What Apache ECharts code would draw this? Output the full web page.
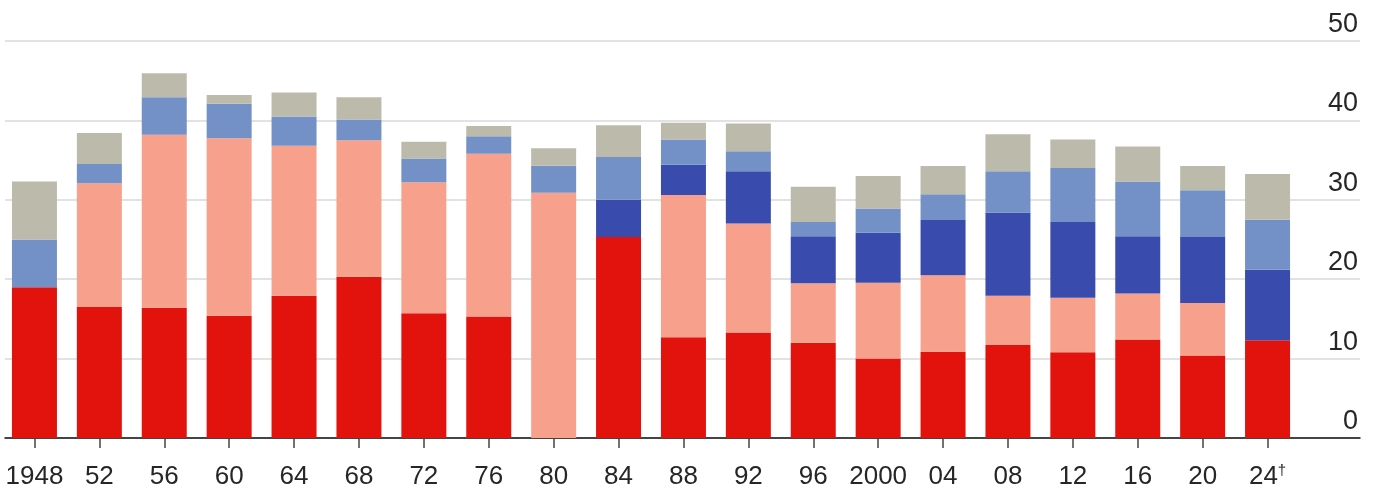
<!DOCTYPE html>
<html>
<head>
<meta charset="utf-8">
<script src="https://cdn.jsdelivr.net/npm/echarts@6/dist/echarts.min.js"></script>
<style>
html,body{margin:0;padding:0;background:#fff;}
#chart{width:1375px;height:496px;}
</style>
</head>
<body>
<div id="chart"></div>
<script>
const categories = ['1948','52','56','60','64','68','72','76','80','84','88','92','96','2000','04','08','12','16','20','24{d|†}'];
const redDark   = [19.0,16.5,16.4,15.4,17.9,20.3,15.7,15.3,0,25.3,12.7,13.3,12.0,10.0,10.85,11.7,10.8,12.4,10.4,12.3];
const redLight  = [0,15.6,21.8,22.35,18.9,17.2,16.5,20.5,30.9,0,17.9,13.7,7.5,9.55,9.65,6.2,6.85,5.8,6.6,0];
const blueDark  = [0,0,0,0,0,0,0,0,0,4.7,3.8,6.6,5.9,6.3,6.95,10.5,9.55,7.2,8.3,8.9];
const blueLight = [6.0,2.4,4.7,4.35,3.7,2.6,3.0,2.2,3.4,5.4,3.2,2.5,1.8,3.05,3.25,5.2,6.8,6.9,5.9,6.3];
const grey      = [7.3,3.9,3.05,1.1,3.0,2.8,2.1,1.3,2.2,4.0,2.1,3.5,4.45,4.1,3.55,4.65,3.6,4.4,3.05,5.75];
const yTicks = [0,10,20,30,40,50];

const colors = {
  redDark:'#e2130d', redLight:'#f7a08c', blueDark:'#3a4bae', blueLight:'#7491c7', grey:'#bcbbab'
};
const FONT = '"Liberation Sans", Arial, Helvetica, sans-serif';

const chart = echarts.init(document.getElementById('chart'), null, {renderer:'canvas'});
function bar(name, data, color){
  return {name, type:'bar', stack:'s', data, xAxisIndex:0, yAxisIndex:0,
    barWidth:45, itemStyle:{color}, emphasis:{disabled:true}, z:3};
}
chart.setOption({
  animation:false,
  backgroundColor:'#fff',
  grid:[
    {left:2, width:1298, top:41, bottom:58, containLabel:false},
    {left:5, right:15, top:41, bottom:58, containLabel:false}
  ],
  xAxis:[
    {type:'category', gridIndex:0, data:categories,
      axisLine:{show:false},
      axisTick:{show:true, alignWithLabel:true, length:10, lineStyle:{color:'#444', width:1.5}},
      axisLabel:{interval:0, fontSize:26, lineHeight:28, color:'#262626', fontFamily:FONT, margin:25,
        rich:{d:{fontSize:15, lineHeight:12, color:'#262626', fontFamily:FONT, verticalAlign:'top', padding:[0,0,10,0]}}}
    },
    {type:'value', gridIndex:1, min:0, max:1,
      axisLine:{show:true, onZero:false, lineStyle:{color:'#111', width:1.5}},
      axisTick:{show:false}, axisLabel:{show:false}, splitLine:{show:false}}
  ],
  yAxis:[
    {type:'value', gridIndex:0, min:0, max:50, interval:10, show:false, splitLine:{show:false}},
    {type:'value', gridIndex:1, min:0, max:50, interval:10, position:'right',
      axisLine:{show:false}, axisTick:{show:false},
      splitLine:{show:true, lineStyle:{color:'#d9d9d9', width:1.5}},
      axisLabel:{inside:true, margin:2, align:'right', verticalAlign:'bottom',
        padding:[0,0,3,0], fontSize:27, color:'#262626', fontFamily:FONT,
        formatter:(v)=> yTicks.includes(v) ? String(v) : ''}}
  ],
  series:[
    bar('redDark', redDark, colors.redDark),
    bar('redLight', redLight, colors.redLight),
    bar('blueDark', blueDark, colors.blueDark),
    bar('blueLight', blueLight, colors.blueLight),
    bar('grey', grey, colors.grey)
  ]
});
</script>
</body>
</html>
